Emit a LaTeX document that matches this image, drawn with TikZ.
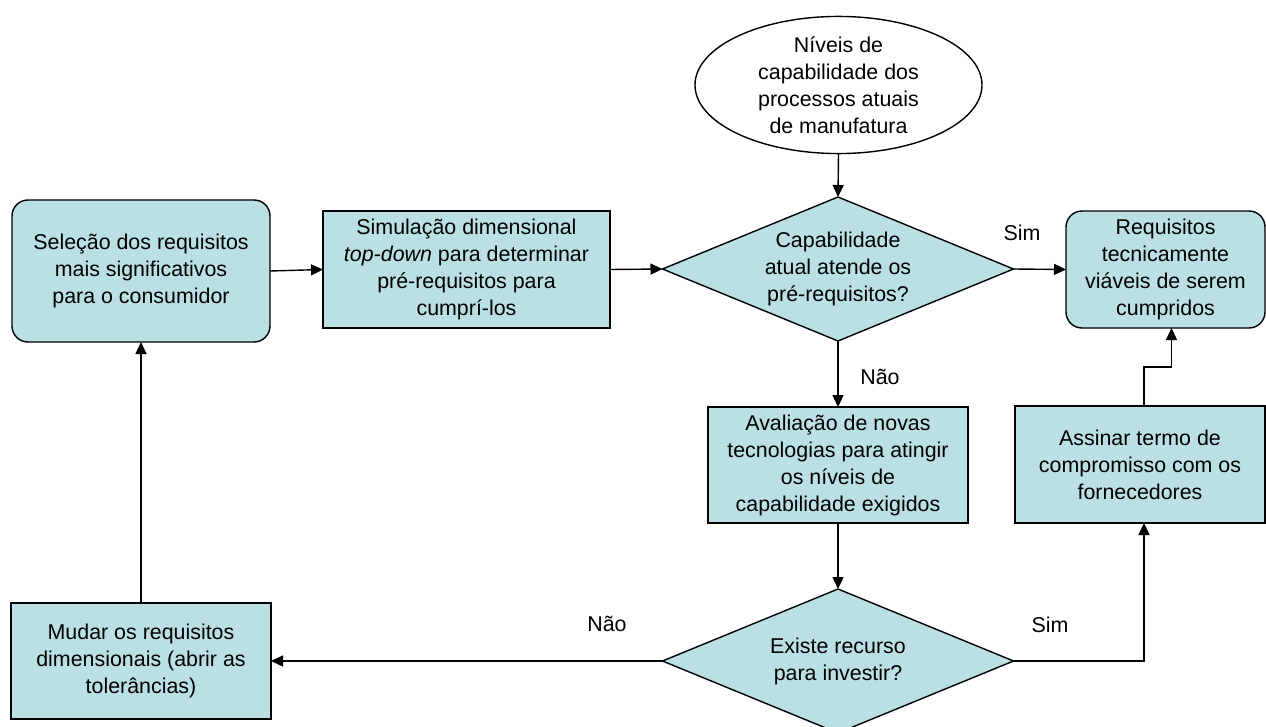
\documentclass[tikz,border=0pt]{standalone}
\usepackage{fontspec}
\setmainfont{Liberation Sans}
\usetikzlibrary{shapes.geometric,arrows.meta}
\definecolor{boxfill}{RGB}{186,224,228}
\begin{document}
\begin{tikzpicture}[x=1pt,y=-1pt,
  every node/.style={font=\fontsize{21.4}{27}\selectfont, align=center, inner sep=0pt, outer sep=0pt},
  base/.style={draw, line width=1.4pt, fill=boxfill},
  procbox/.style={base, rectangle},
  termbox/.style={base, rectangle, rounded corners=16pt},
  decision/.style={base, diamond, minimum width=351pt, minimum height=144pt},
  source/.style={draw, line width=1.4pt, fill=white, ellipse},
  lbl/.style={font=\fontsize{21.4}{27}\selectfont},
  arr/.style={line width=1.4pt, -{Triangle[length=12pt,width=11pt]}},
  wire/.style={line width=1.4pt}]
\useasboundingbox (0,0) rectangle (1266,727);
\clip (0,0) rectangle (1266,727);

% input: current process capability
\node[source, minimum width=287pt, minimum height=120pt] (src) at (838.5,85)
  {N\'iveis de\\capabilidade dos\\processos atuais\\de manufatura};

% main row
\node[termbox, minimum width=258pt, minimum height=142pt] (sel) at (141,271)
  {Sele\c{c}\~ao dos requisitos\\mais significativos\\para o consumidor};
\node[procbox, minimum width=287pt, minimum height=117pt] (sim) at (466.5,269.5)
  {Simula\c{c}\~ao dimensional\\\textit{top-down} para determinar\\pr\'e-requisitos para\\cumpr\'i-los};
\node[decision] (d1) at (838,269) {};
\node at (d1.center) {Capabilidade\\atual atende os\\pr\'e-requisitos?};
\node[termbox, minimum width=199pt, minimum height=117pt] (req) at (1165.5,269.5)
  {Requisitos\\tecnicamente\\vi\'aveis de serem\\cumpridos};

% second row
\node[procbox, minimum width=260pt, minimum height=116pt] (ava) at (838,465)
  {Avalia\c{c}\~ao de novas\\tecnologias para atingir\\os n\'iveis de\\capabilidade exigidos};
\node[procbox, minimum width=250pt, minimum height=117pt] (ass) at (1140,464.5)
  {Assinar termo de\\compromisso com os\\fornecedores};

% bottom row
\node[procbox, minimum width=260pt, minimum height=116pt] (mud) at (141,661)
  {Mudar os requisitos\\dimensionais (abrir as\\toler\^ancias)};
\node[decision] (d2) at (838,661) {};
\node at (d2.center) {Existe recurso\\para investir?};

% branch labels
\node[lbl] (sim1) at (1022,233) {Sim};
\node[lbl] (nao1) at (880,377) {N\~ao};
\node[lbl] (sim2) at (1050,625) {Sim};
\node[lbl] (nao2) at (607,624) {N\~ao};

% connectors
\draw[arr] (src.south) -- (d1.north);
\draw[arr] (sel.east) -- (sim.west);
\draw[arr] (sim.east) -- (d1.west);
\draw[arr] (d1.east) -- (req.west);
\draw[arr] (d1.south) -- (ava.north);
\draw[arr] (ava.south) -- (d2.north);
\draw[arr] (d2.west) -- (mud.east);
\draw[arr] (mud.north) -- (sel.south);
\draw[arr] (d2.east) -| ([xshift=4pt]ass.south);
\draw[arr] ([xshift=4pt]ass.north) -- ++(0,-39) -| ([xshift=6pt]req.south);
\end{tikzpicture}
\end{document}
